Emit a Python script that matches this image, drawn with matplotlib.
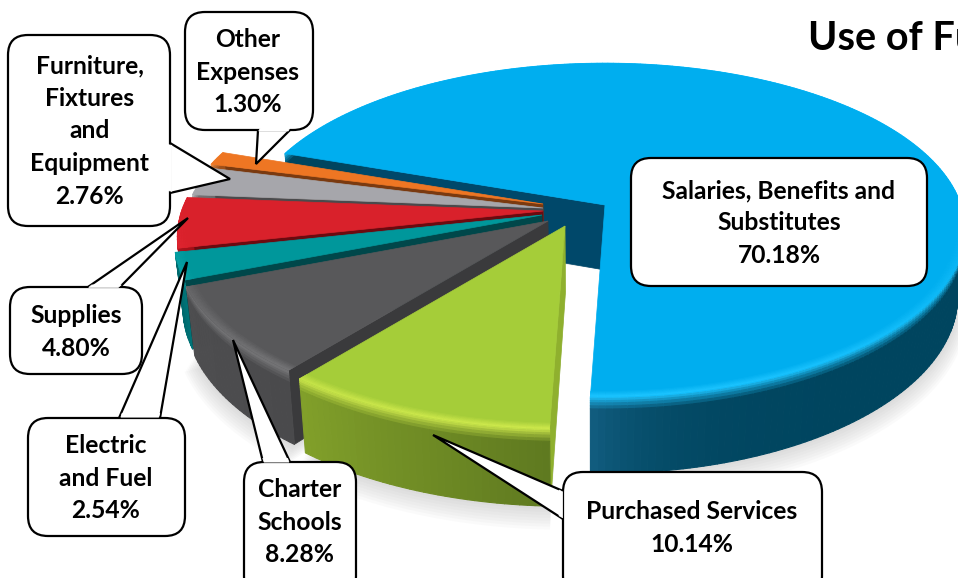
import numpy as np
import matplotlib
matplotlib.use("Agg")
import matplotlib.pyplot as plt
from matplotlib.collections import PolyCollection
from matplotlib.colors import to_rgb
from matplotlib.patches import FancyBboxPatch, Polygon

# ---- data, clockwise from the front of the pie ----
categories = ["Purchased Services", "Charter\nSchools", "Electric\nand Fuel", "Supplies",
              "Furniture,\nFixtures\nand\nEquipment", "Other\nExpenses",
              "Salaries, Benefits and\nSubstitutes"]
values = [10.14, 8.28, 2.54, 4.80, 2.76, 1.30, 70.18]
title = "Use of Funds"

# ---- styles ----
top_cols = ["#A5CD39", "#58585A", "#00979B", "#D9212B", "#A6A6AB", "#EE7623", "#00AEEF"]
hi_cols = ["#CDE84C", "#7C7C7E", "#18B4B8", "#F23040", "#C4C4C8", "#F79A50", "#1CC4FF"]
side_a = ["#5F7A20", "#4A4A4C", "#007478", "#B01820", "#77777A", "#A0501A", "#00455F"]
side_b = ["#82A02A", "#4E4E50", "#00686C", "#A01018", "#6A6A6C", "#A0501A", "#135F82"]
side_pow = [1, 1, 1, 1, 1, 1, 30]
cut_cols = ["#8FB02E", "#3A3A3C", "#00474A", "#6B0A10", "#4A4A4C", "#7A3A10", "#00486A"]
# apex of each exploded slice, in pixels of the axes, and its radius factor
apex_x = [565, 548, 542, 543, 543, 543, 605]
apex_y = [226, 221, 215, 211, 208, 204, 205]
scale = [1.05, 1.03, 1.02, 1.015, 1.0, 1.0, 1.0]
F, G, K, H, VPX, VPS = 356.0, 163.0, 0.15, 65.0, 593.0, 0.98
START = 2.0

# box: x0, y0, x1, y1, text centre x, y; tail: tip x, y, base a, base b
boxes = {
    "Salaries, Benefits and\nSubstitutes": ((631, 158, 927, 286), (779, 223), None),
    "Purchased Services": ((563, 472, 822, 596), (692, 528), ((433, 435), (563, 491), (563, 519))),
    "Charter\nSchools": ((244, 462, 356, 596), (300, 522), ((233, 340), (263, 462), (290, 462))),
    "Electric\nand Fuel": ((28, 418, 185, 536), (106, 478), ((187, 262), (119, 418), (160, 418))),
    "Supplies": ((10, 287, 142, 374), (76, 332), ((188, 218), (88, 287), (120, 287))),
    "Furniture,\nFixtures\nand\nEquipment": ((8, 35, 170, 226), (90, 131), ((230, 179), (170, 143), (170, 193))),
    "Other\nExpenses": ((185, 12, 313, 130), (248, 72), ((256, 164), (258, 130), (290, 130))),
}

fig = plt.figure(figsize=(9.58, 5.78), dpi=100, facecolor="white")
ax = fig.add_axes([0, 0, 1, 1])
ax.set_xlim(0, 958)
ax.set_ylim(578, 0)
ax.axis("off")


def proj(ax_, ay_, theta, r=1.0, dz=0.0):
    t = np.radians(theta)
    w = 1 - K * r * np.cos(t)
    x = ax_ - F * r * np.sin(t) / w
    y = ay_ + G * r * np.cos(t) / w
    if np.ndim(dz) or dz != 0:
        f = dz / H
        x = x + (VPX - x) * (1 - VPS) * f
        y = y + dz / w
    return x, y


def mix(a, b, t):
    a, b = np.array(to_rgb(a)), np.array(to_rgb(b))
    return a + (b - a) * t


spans = np.array(values) / sum(values) * 360
lows = START + np.concatenate([[0], np.cumsum(spans)[:-1]])

# soft shadow under the pie
for i in (6, 0, 1):
    th = np.linspace(lows[i], lows[i] + spans[i], 200)
    for s in range(1, 9):
        x, y = proj(apex_x[i], apex_y[i], th, scale[i] * (1 + 0.004 * s), H + 1.6 * s)
        xa, ya = proj(apex_x[i], apex_y[i], 0.0, 0.0, H)
        ax.add_patch(Polygon(np.r_[[[xa, ya]], np.c_[x, y]], closed=True, fc="#808080",
                             ec="none", alpha=0.035, zorder=1))

# painter's order: blue at the back, then small slices to the green one in front
order = [6, 5, 4, 3, 2, 1, 0]
z = 2
for i in order:
    ax0, ay0 = apex_x[i], apex_y[i]
    R = scale[i]
    lo, hi = lows[i], lows[i] + spans[i]
    # radial cut face on the low-angle side
    xs0, ys0 = proj(ax0, ay0, lo, R)
    xs1, ys1 = proj(ax0, ay0, lo, R, H)
    xa1, ya1 = proj(ax0, ay0, lo, 0.0, H)
    ax.add_patch(Polygon([(ax0, ay0), (xs0, ys0), (xs1, ys1), (xa1, ya1)], closed=True,
                         fc=cut_cols[i], ec=cut_cols[i], lw=0.5, zorder=z))
    z += 1
    # curved outer side with a highlight along its upper lip
    n = max(8, int(spans[i] * 1.0))
    th = np.linspace(lo, hi, n + 1)
    layers = [0, 0.02, 0.05, 0.08, 0.12, 0.16, 1.0]
    polys, cols = [], []
    for k in range(n):
        t = k / n
        base = mix(side_a[i], side_b[i], t ** side_pow[i])
        for j in range(len(layers) - 1):
            a, b = layers[j] * H, layers[j + 1] * H
            xa, ya = proj(ax0, ay0, th[k], R, a)
            xb, yb = proj(ax0, ay0, th[k], R, b)
            xc, yc = proj(ax0, ay0, th[k + 1], R, b)
            xd, yd = proj(ax0, ay0, th[k + 1], R, a)
            polys.append([(xa, ya), (xb, yb), (xc, yc), (xd, yd)])
            cols.append(mix(hi_cols[i], base, min(1.0, j / 5)))
    ax.add_collection(PolyCollection(polys, facecolors=cols, edgecolors=cols, linewidths=0.8, zorder=z))
    z += 1
    # flat top
    xt, yt = proj(ax0, ay0, th, R)
    ax.add_patch(Polygon(np.r_[[[ax0, ay0]], np.c_[xt, yt]], closed=True,
                         fc=top_cols[i], ec=top_cols[i], lw=0.5, zorder=z))
    z += 1
    # bevel ring on the top face, brightest at the lip facing the viewer
    rings = [0.975, 0.98, 0.985, 0.99, 0.995, 1.0]
    polys, cols = [], []
    for k in range(n):
        amt = max(0.0, np.cos(np.radians((th[k] + th[k + 1]) / 2)))
        if amt <= 0:
            continue
        for j in range(len(rings) - 1):
            xa, ya = proj(ax0, ay0, th[k], R * rings[j])
            xb, yb = proj(ax0, ay0, th[k], R * rings[j + 1])
            xc, yc = proj(ax0, ay0, th[k + 1], R * rings[j + 1])
            xd, yd = proj(ax0, ay0, th[k + 1], R * rings[j])
            polys.append([(xa, ya), (xb, yb), (xc, yc), (xd, yd)])
            cols.append(mix(top_cols[i], hi_cols[i], amt * (j + 1) / (len(rings) - 1)))
    if polys:
        ax.add_collection(PolyCollection(polys, facecolors=cols, edgecolors=cols, linewidths=0.4, zorder=z))
    z += 1

# title, running off the right edge as in the reference
ax.text(808, 39, title, fontsize=28.5, fontweight="bold", family="Lato", color="black",
        ha="left", va="center", zorder=z)
z += 1

# callouts
for name, val in zip(categories, values):
    (x0, y0, x1, y1), (tx, ty), tail = boxes[name]
    if tail is not None:
        ax.add_patch(Polygon(tail, closed=True, fc="white", ec="black", lw=1.6, joinstyle="miter", zorder=z))
    z += 1
    ax.add_patch(FancyBboxPatch((x0, y0), x1 - x0, y1 - y0,
                                boxstyle="round,pad=0,rounding_size=20",
                                fc="white", ec="black", lw=1.6, zorder=z))
    z += 1
    if tail is not None:
        # white patch that merges the tail with its box
        tip, a, b = np.array(tail[0], float), np.array(tail[1], float), np.array(tail[2], float)
        c = (a + b) / 2
        s = 0.03
        a2, b2 = a + (c - a) * 0.05 + (tip - a) * s, b + (c - b) * 0.05 + (tip - b) * s
        inward = (c - tip) / np.linalg.norm(c - tip) * 4
        ax.add_patch(Polygon([a2, b2, b2 + inward, a2 + inward], closed=True, fc="white", ec="white", lw=0.5, zorder=z))
    z += 1
    ax.text(tx, ty, f"{name}\n{val:.2f}%", fontsize=17.7, fontweight="bold", family="Lato",
            ha="center", va="center", linespacing=1.5, color="black", zorder=z)
    z += 1

fig.savefig("out.png", dpi=100)
